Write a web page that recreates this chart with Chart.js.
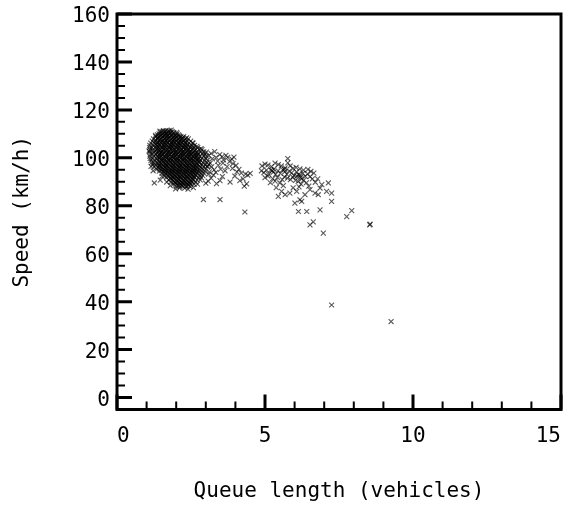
<!DOCTYPE html>
<html>
<head>
<meta charset="utf-8">
<script src="https://cdn.jsdelivr.net/npm/chart.js@4.4.1/dist/chart.umd.min.js"></script>
<style>
  html, body { margin: 0; padding: 0; background: #fff; }
  #wrap { width: 567px; height: 506px; }
</style>
</head>
<body>
<div id="wrap"><canvas id="c" width="567" height="506"></canvas></div>
<script>
// axis ticks
const xMajor = [0, 5, 10, 15];
const xMinor = [1, 2, 3, 4, 6, 7, 8, 9, 11, 12, 13, 14];
const yMajor = [0, 20, 40, 60, 80, 100, 120, 140, 160];
const yMinor = [5, 10, 15, 25, 30, 35, 45, 50, 55, 65, 70, 75, 85, 90, 95, 105, 110, 115, 125, 130, 135, 145, 150, 155];

// dense cloud near 1-3 vehicles, one row per speed: [speed, [queue lengths]]
const coreRows = [
  [111.3, [1.57, 1.66, 1.76]],
  [110.9, [1.52, 1.63, 1.74, 1.86]],
  [110.5, [1.46, 1.59, 1.69, 1.82, 1.92]],
  [110.0, [1.42, 1.54, 1.66, 1.78, 1.9, 2.03]],
  [109.6, [1.37, 1.49, 1.63, 1.72, 1.85, 1.99, 2.08]],
  [109.2, [1.46, 1.59, 1.71, 1.83, 1.96, 2.11]],
  [108.8, [1.31, 1.41, 1.54, 1.67, 1.77, 1.91, 2.01, 2.16, 2.25]],
  [108.3, [1.38, 1.5, 1.63, 1.74, 1.87, 1.98, 2.12, 2.22]],
  [107.9, [1.23, 1.36, 1.46, 1.61, 1.7, 1.84, 1.94, 2.08, 2.18, 2.32, 2.41]],
  [107.4, [1.32, 1.45, 1.56, 1.68, 1.8, 1.92, 2.04, 2.16, 2.28]],
  [107.0, [1.19, 1.28, 1.42, 1.52, 1.65, 1.76, 1.89, 1.99, 2.13, 2.23, 2.37, 2.49]],
  [106.5, [1.39, 1.47, 1.58, 1.7, 1.82, 1.92, 2.06, 2.16, 2.3]],
  [106.1, [1.14, 1.27, 1.36, 1.5, 1.61, 1.71, 1.85, 1.95, 2.09, 2.19, 2.33, 2.43, 2.57]],
  [105.6, [1.31, 1.42, 1.55, 1.64, 1.78, 1.88, 2.02, 2.12, 2.26, 2.36]],
  [105.2, [1.11, 1.22, 1.34, 1.44, 1.58, 1.67, 1.81, 1.91, 2.05, 2.15, 2.29, 2.39, 2.53, 2.62]],
  [104.7, [1.38, 1.51, 1.61, 1.75, 1.85, 1.99, 2.09, 2.23, 2.33, 2.47]],
  [104.3, [1.1, 1.18, 1.31, 1.4, 1.54, 1.64, 1.78, 1.88, 2.02, 2.12, 2.26, 2.36, 2.5, 2.6, 2.73]],
  [103.8, [1.37, 1.44, 1.6, 1.68, 1.84, 1.92, 2.08, 2.16, 2.32, 2.4, 2.56]],
  [103.4, [1.12, 1.21, 1.35, 1.47, 1.57, 1.71, 1.81, 1.95, 2.05, 2.19, 2.29, 2.43, 2.53, 2.67, 2.77, 2.87]],
  [102.9, [1.3, 1.42, 1.52, 1.66, 1.76, 1.9, 2.0, 2.14, 2.24, 2.38, 2.48, 2.62]],
  [102.5, [1.1, 1.25, 1.39, 1.49, 1.63, 1.73, 1.87, 1.97, 2.11, 2.21, 2.35, 2.45, 2.59, 2.69, 2.83, 2.93]],
  [102.0, [1.36, 1.52, 1.6, 1.76, 1.84, 2.0, 2.08, 2.24, 2.32, 2.48, 2.56, 2.72]],
  [101.6, [1.13, 1.2, 1.31, 1.45, 1.55, 1.69, 1.79, 1.93, 2.03, 2.17, 2.27, 2.41, 2.51, 2.65, 2.75, 2.89, 2.97]],
  [101.1, [1.42, 1.52, 1.66, 1.76, 1.9, 2.0, 2.14, 2.24, 2.38, 2.48, 2.62, 2.72]],
  [100.7, [1.11, 1.25, 1.35, 1.49, 1.59, 1.73, 1.83, 1.97, 2.07, 2.21, 2.31, 2.45, 2.55, 2.69, 2.79, 2.93, 3.02]],
  [100.2, [1.4, 1.46, 1.64, 1.7, 1.88, 1.94, 2.12, 2.18, 2.36, 2.42, 2.6, 2.66]],
  [99.8, [1.12, 1.2, 1.33, 1.43, 1.57, 1.67, 1.81, 1.91, 2.05, 2.15, 2.29, 2.39, 2.53, 2.63, 2.77, 2.87, 3.0]],
  [99.3, [1.48, 1.54, 1.72, 1.78, 1.96, 2.02, 2.2, 2.26, 2.44, 2.5, 2.68, 2.74]],
  [98.9, [1.15, 1.28, 1.38, 1.52, 1.62, 1.76, 1.86, 2.0, 2.1, 2.24, 2.34, 2.48, 2.58, 2.72, 2.82, 2.96, 3.06]],
  [98.4, [1.44, 1.56, 1.68, 1.8, 1.92, 2.04, 2.15, 2.28, 2.39, 2.52, 2.63, 2.76]],
  [98.0, [1.17, 1.24, 1.35, 1.47, 1.6, 1.71, 1.83, 1.96, 2.07, 2.19, 2.32, 2.43, 2.55, 2.68, 2.79, 2.91, 3.04]],
  [97.5, [1.4, 1.5, 1.64, 1.74, 1.88, 1.98, 2.12, 2.22, 2.36, 2.46, 2.6, 2.7]],
  [97.1, [1.21, 1.3, 1.44, 1.54, 1.68, 1.78, 1.92, 2.02, 2.16, 2.26, 2.4, 2.5, 2.64, 2.74, 2.88, 2.98, 3.1]],
  [96.6, [1.42, 1.58, 1.66, 1.82, 1.9, 2.06, 2.14, 2.3, 2.38, 2.54, 2.62, 2.78]],
  [96.2, [1.26, 1.38, 1.48, 1.62, 1.72, 1.86, 1.96, 2.1, 2.2, 2.34, 2.44, 2.58, 2.68, 2.82, 2.92, 3.05]],
  [95.7, [1.42, 1.52, 1.64, 1.76, 1.88, 2.0, 2.12, 2.24, 2.36, 2.48, 2.6, 2.72]],
  [95.3, [1.34, 1.45, 1.59, 1.69, 1.83, 1.93, 2.07, 2.17, 2.31, 2.41, 2.55, 2.65, 2.79, 2.89, 3.0]],
  [94.8, [1.5, 1.62, 1.74, 1.86, 1.98, 2.1, 2.22, 2.34, 2.46, 2.58, 2.7]],
  [94.4, [1.43, 1.56, 1.66, 1.8, 1.9, 2.04, 2.14, 2.28, 2.38, 2.52, 2.62, 2.76, 2.86, 2.97]],
  [93.9, [1.6, 1.72, 1.84, 1.96, 2.08, 2.2, 2.32, 2.44, 2.56, 2.68]],
  [93.5, [1.52, 1.64, 1.77, 1.87, 2.01, 2.11, 2.25, 2.35, 2.49, 2.59, 2.73, 2.83, 2.94]],
  [93.0, [1.68, 1.8, 1.92, 2.04, 2.16, 2.28, 2.4, 2.52, 2.64]],
  [92.6, [1.61, 1.71, 1.85, 1.95, 2.09, 2.19, 2.33, 2.43, 2.57, 2.67, 2.8, 2.9]],
  [92.1, [1.76, 1.88, 2.0, 2.12, 2.24, 2.36, 2.48, 2.6]],
  [91.7, [1.67, 1.81, 1.91, 2.05, 2.15, 2.29, 2.39, 2.53, 2.63, 2.76, 2.85]],
  [91.2, [1.83, 1.95, 2.07, 2.19, 2.31, 2.43, 2.55]],
  [90.8, [1.75, 1.86, 2.0, 2.1, 2.24, 2.34, 2.48, 2.58, 2.7, 2.81]],
  [90.3, [1.91, 2.03, 2.14, 2.26, 2.38, 2.5]],
  [89.9, [1.83, 1.95, 2.06, 2.19, 2.3, 2.43, 2.54, 2.66]],
  [89.4, [1.98, 2.1, 2.22, 2.34, 2.46]],
  [89.0, [1.91, 2.02, 2.15, 2.26, 2.39, 2.5, 2.61]],
  [88.5, [2.07, 2.19, 2.31, 2.42]],
  [88.1, [2.0, 2.13, 2.23, 2.36, 2.47]],
  [87.4, [2.11, 2.29]]
];

// loose points on the edge of the cloud and its tail towards 4.5
const edgePoints = [
  [1.08, 102.9], [1.15, 96.4], [1.22, 94.6], [1.3, 109.4], [1.45, 111.1], [1.83, 111.6],
  [2.02, 110.6], [2.35, 108.3], [2.55, 106.2], [2.7, 104.8], [2.84, 103.8], [1.52, 92.3],
  [1.68, 89.9], [1.8, 88.4], [1.98, 87.0], [2.4, 86.9], [2.58, 87.6], [2.72, 89.0],
  [3.02, 102.4], [3.1, 100.9], [3.18, 101.8], [3.22, 99.6], [3.3, 102.6], [3.35, 100.2],
  [3.4, 98.6], [3.47, 101.3], [3.55, 100.5], [3.6, 99.1], [3.68, 101.0], [3.74, 100.2],
  [3.8, 98.4], [3.88, 99.5], [3.95, 100.3], [3.92, 97.6], [4.02, 96.8], [3.15, 97.8],
  [3.2, 96.2], [3.28, 95.0], [3.12, 94.1], [3.26, 92.8], [3.18, 91.5], [3.08, 90.3],
  [3.34, 93.9], [3.42, 96.9], [3.5, 95.3], [3.58, 97.8], [3.65, 94.6], [3.72, 96.3],
  [3.48, 90.5], [3.56, 92.2], [3.82, 89.9], [3.9, 95.6], [4.05, 94.1], [4.12, 95.2],
  [4.2, 93.6], [4.26, 91.2], [4.34, 93.2], [4.42, 92.8], [4.38, 89.1], [4.3, 88.2],
  [4.5, 93.5], [4.15, 90.5], [3.98, 92.4], [3.36, 89.2], [3.0, 89.4], [3.05, 96.6],
  [3.1, 93.2], [1.26, 89.5], [1.46, 90.7], [2.92, 82.6], [3.48, 82.6], [4.32, 77.4]
];

// second group between 5 and 7.3 vehicles
const secondGroup = [
  [4.9, 96.6], [5.0, 97.4], [5.1, 97.0], [5.22, 96.3], [5.34, 97.8], [5.45, 97.2],
  [5.55, 96.6], [5.68, 95.8], [5.77, 99.7], [5.77, 97.9], [5.85, 96.6], [5.95, 95.6],
  [6.05, 96.0], [6.18, 95.4], [6.3, 94.9], [6.45, 95.2], [6.55, 94.3], [6.65, 93.6],
  [4.88, 94.6], [4.96, 93.8], [5.05, 94.9], [5.12, 93.2], [5.2, 95.0], [5.28, 94.0],
  [5.36, 93.1], [5.44, 94.6], [5.52, 93.5], [5.6, 95.1], [5.67, 94.2], [5.74, 93.1],
  [5.82, 94.5], [5.9, 93.7], [5.98, 92.6], [6.06, 94.1], [6.13, 93.0], [6.2, 91.8],
  [6.28, 93.5], [6.36, 92.3], [6.44, 93.3], [6.52, 92.1], [6.6, 91.2], [5.0, 91.7],
  [5.1, 92.4], [5.18, 89.6], [5.26, 91.3], [5.34, 90.3], [5.42, 91.8], [5.5, 89.5],
  [5.58, 90.9], [5.66, 92.0], [5.76, 91.5], [5.86, 90.9], [5.94, 91.9], [6.03, 90.6],
  [6.12, 90.2], [6.22, 89.0], [6.3, 90.6], [6.4, 89.6], [6.48, 88.2], [5.24, 94.6],
  [5.3, 95.3], [5.66, 95.2], [6.08, 92.4], [6.18, 92.9], [6.24, 91.2],
  [5.45, 83.9], [5.56, 86.0], [5.68, 84.6], [5.84, 85.3], [5.95, 87.5], [6.07, 86.0],
  [6.18, 82.5], [6.01, 81.1], [6.24, 81.8], [6.35, 84.6], [6.52, 86.7], [6.69, 85.3],
  [6.8, 84.6], [6.86, 87.4], [6.92, 88.8], [7.14, 89.5], [7.08, 86.0], [7.25, 85.3],
  [7.25, 81.8], [6.7, 89.8], [6.78, 91.2], [5.38, 87.6], [5.62, 88.4], [6.15, 87.9]
];

// isolated low-speed points
const outliers = [
  [6.86, 78.3], [6.13, 77.6], [6.41, 77.6], [6.52, 72.0], [6.63, 73.3], [6.97, 68.6],
  [7.76, 75.5], [7.93, 78.0], [8.54, 72.0], [8.55, 72.3], [7.25, 38.6], [9.26, 31.7]
];

const points = [];
coreRows.forEach(([v, qs]) => qs.forEach(q => points.push({ x: q, y: v })));
[edgePoints, secondGroup, outliers].forEach(list => list.forEach(([q, v]) => points.push({ x: q, y: v })));

const FONT = "'DejaVu Sans Mono', monospace";

// frame with inward tick marks on the left and bottom
const framePlugin = {
  id: 'frame',
  afterDatasetsDraw(chart) {
    const { ctx, chartArea: a, scales: { x, y } } = chart;
    ctx.save();
    ctx.strokeStyle = '#000';
    ctx.lineCap = 'butt';
    const tick = (list, len, w, horizontal) => {
      ctx.lineWidth = w;
      ctx.beginPath();
      list.forEach(v => {
        if (horizontal) {
          const py = y.getPixelForValue(v);
          ctx.moveTo(a.left, py);
          ctx.lineTo(a.left + len, py);
        } else {
          const px = x.getPixelForValue(v);
          ctx.moveTo(px, a.bottom);
          ctx.lineTo(px, a.bottom - len);
        }
      });
      ctx.stroke();
    };
    tick(xMinor, 8, 2, false);
    tick(xMajor, 15, 3, false);
    tick(yMinor, 8, 2, true);
    tick(yMajor, 15, 3, true);
    ctx.lineWidth = 3;
    ctx.strokeRect(a.left, a.top, a.right - a.left, a.bottom - a.top);
    ctx.restore();
  }
};

new Chart(document.getElementById('c'), {
  type: 'scatter',
  data: {
    datasets: [{
      label: 'Speed',
      data: points,
      pointStyle: 'crossRot',
      pointRadius: 3.5,
      pointBorderWidth: 1.1,
      borderColor: 'rgba(0,0,0,0.65)',
      backgroundColor: 'rgba(0,0,0,0.65)'
    }]
  },
  options: {
    responsive: false,
    animation: false,
    layout: { padding: { top: 14, right: 6, left: 0, bottom: 0 } },
    plugins: { legend: { display: false }, tooltip: { enabled: false } },
    scales: {
      x: {
        type: 'linear',
        min: 0,
        max: 15,
        afterBuildTicks: s => { s.ticks = xMajor.map(v => ({ value: v })); },
        afterFit: s => { s.height = 96.5; s.paddingLeft = 0; s.paddingRight = 0; },
        grid: { display: false, drawTicks: false },
        border: { display: false },
        ticks: { color: '#000', font: { family: FONT, size: 21 }, padding: 14, maxRotation: 0, align: 'inner' },
        title: {
          display: true,
          text: 'Queue length (vehicles)',
          color: '#000',
          font: { family: FONT, size: 21 },
          padding: { top: 0, bottom: 2 }
        }
      },
      y: {
        type: 'linear',
        min: -5,
        max: 160,
        afterBuildTicks: s => { s.ticks = yMajor.map(v => ({ value: v })); },
        afterFit: s => { s.width = 117; s.paddingTop = 0; s.paddingBottom = 0; },
        grid: { display: false, drawTicks: false },
        border: { display: false },
        ticks: { color: '#000', font: { family: FONT, size: 21 }, padding: 7, labelOffset: 3 },
        title: {
          display: true,
          text: 'Speed (km/h)',
          color: '#000',
          font: { family: FONT, size: 21 },
          padding: { top: 10, bottom: 0 }
        }
      }
    }
  },
  plugins: [framePlugin]
});
</script>
</body>
</html>
